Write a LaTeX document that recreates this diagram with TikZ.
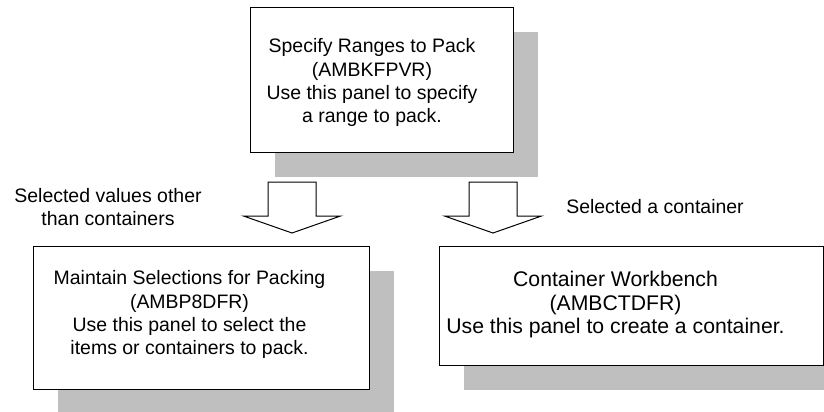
\documentclass[tikz,border=0pt]{standalone}
\usepackage{fontspec}
\setmainfont{Liberation Sans}
\usetikzlibrary{positioning,shadows}

\tikzset{
    panel/.style={draw,fill=white,line width=0.75pt,anchor=north west,inner sep=0pt,
        drop shadow={shadow xshift=18pt,shadow yshift=-18pt,fill=black!25,opacity=1}},
    paneltext/.style={align=center,font=\fontsize{14.6}{17.5}\selectfont},
    blockarrow/.style={draw,fill=white,line width=0.75pt}
}

\begin{document}
\begin{tikzpicture}[x=0.75pt,y=-0.75pt]
    \useasboundingbox (0,0) rectangle (824,411);

    \node[panel,minimum width=197.25pt,minimum height=108.75pt] (ranges) at (250,7) {};
    \node[paneltext] (rangestxt) at ([xshift=-7.5pt,yshift=-2pt]ranges.center) {Specify Ranges to Pack\\(AMBKFPVR)\\Use this panel to specify\\a range to pack.};

    \node[panel,minimum width=252pt,minimum height=107.25pt] (select) at (33,246) {};
    \node[paneltext] (selecttxt) at ([xshift=-9pt,yshift=2.5pt]select.center) {Maintain Selections for Packing\\(AMBP8DFR)\\Use this panel to select the\\items or containers to pack.};

    \node[panel,minimum width=288pt,minimum height=89.25pt] (bench) at (439,246) {};
    \node[paneltext,font=\fontsize{15.9}{17.8}\selectfont] (benchtxt) at ([xshift=-12pt,yshift=1pt]bench.center) {Container Workbench\\(AMBCTDFR)\\Use this panel to create a container.};

    \coordinate (arrowL) at (292,182);
    \coordinate (arrowR) at (493,182);
    \draw[blockarrow] (arrowL) ++(-24,0) -- ++(0,34) -- ++(-24.5,0) -- ++(48.5,17) -- ++(48.5,-17) -- ++(-24.5,0) -- ++(0,-34) -- cycle;
    \draw[blockarrow] (arrowR) ++(-24,0) -- ++(0,34) -- ++(-24.5,0) -- ++(48.5,17) -- ++(48.5,-17) -- ++(-24.5,0) -- ++(0,-34) -- cycle;

    \node[paneltext] (otherlbl) at (108,207) {Selected values other\\than containers};
    \node[paneltext] (containerlbl) at (655,207) {Selected a container};
\end{tikzpicture}
\end{document}
